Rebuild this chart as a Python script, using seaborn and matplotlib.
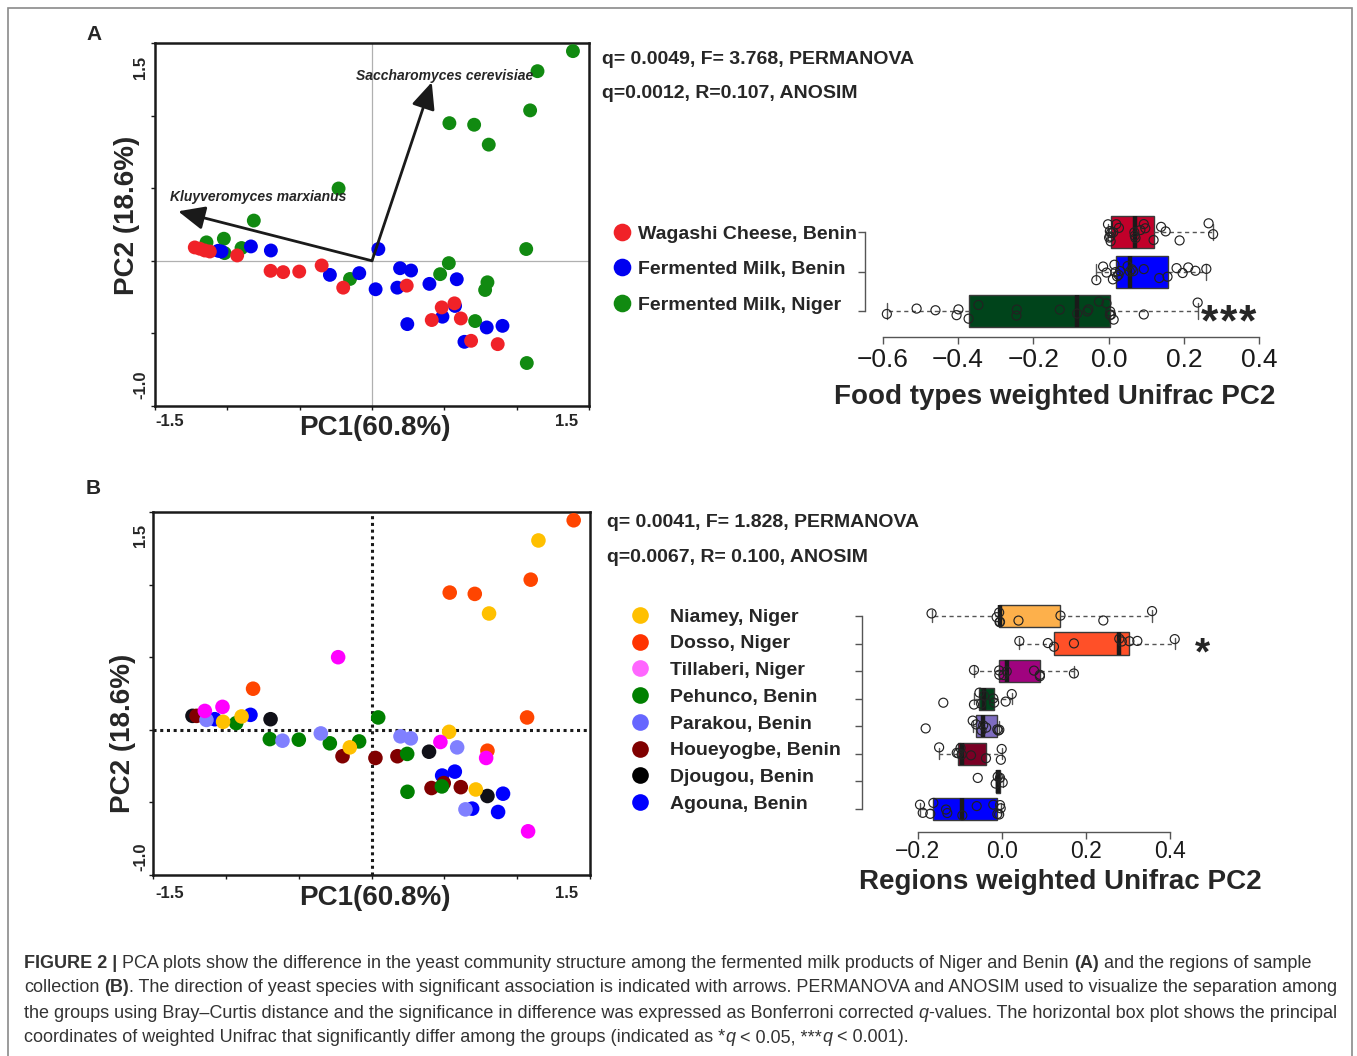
import numpy as np
import pandas as pd
import matplotlib
matplotlib.use("Agg")
import matplotlib.pyplot as plt
import seaborn as sns
from matplotlib.lines import Line2D
from matplotlib.patches import Rectangle

# ---------------- data: panel A scatter (PC1 / PC2) ----------------
food_groups = ["Wagashi Cheese, Benin", "Fermented Milk, Benin", "Fermented Milk, Niger"]
wagashi_pc1 = [-1.225, -1.190, -1.156, -1.121, -0.932, -0.701, -0.614, -0.503, -0.348, -0.199,
               0.240, 0.482, 0.570, 0.413, 0.614, 0.685, 0.869]
wagashi_pc2 = [0.092, 0.083, 0.071, 0.064, 0.037, -0.069, -0.078, -0.074, -0.032, -0.185,
               -0.171, -0.321, -0.293, -0.408, -0.397, -0.551, -0.574]
milk_benin_pc1 = [-1.063, -1.040, -0.837, -0.699, 0.044, -0.291, -0.088, 0.025, 0.194, 0.270,
                  0.175, 0.397, 0.586, 0.244, 0.487, 0.574, 0.793, 0.902, 0.639]
milk_benin_pc2 = [0.069, 0.064, 0.099, 0.071, 0.081, -0.097, -0.085, -0.196, -0.051, -0.067,
                  -0.185, -0.159, -0.127, -0.436, -0.385, -0.311, -0.459, -0.448, -0.558]
milk_niger_pc1 = [1.389, 1.144, 1.093, 0.535, 0.706, 0.807, -0.231, -0.817, -1.024, -1.144,
                  -0.902, -1.019, 1.066, 0.531, 0.471, 0.798, 0.782, -0.152, 0.713, 1.070]
milk_niger_pc2 = [1.444, 1.306, 1.036, 0.948, 0.937, 0.800, 0.498, 0.277, 0.152, 0.127,
                  0.088, 0.053, 0.081, -0.016, -0.092, -0.148, -0.201, -0.125, -0.415, -0.704]
arrow_species = ["Kluyveromyces marxianus", "Saccharomyces cerevisiae"]
arrow_pc1 = [-1.340, 0.413]
arrow_pc2 = [0.341, 1.230]

# ---------------- data: panel A box plot (weighted Unifrac PC2) ----------------
unifrac_wagashi = [-0.002, 0.001, 0.003, 0.004, 0.005, 0.006, 0.012, 0.020, 0.027, 0.068, 0.069,
                   0.071, 0.084, 0.093, 0.097, 0.119, 0.139, 0.151, 0.188, 0.265, 0.277]
unifrac_milk_benin = [-0.033, -0.015, -0.006, 0.011, 0.015, 0.018, 0.022, 0.026, 0.030, 0.050, 0.056,
                      0.061, 0.065, 0.093, 0.134, 0.156, 0.180, 0.196, 0.211, 0.230, 0.259]
unifrac_milk_niger = [-0.589, -0.510, -0.460, -0.404, -0.399, -0.372, -0.346, -0.245, -0.244, -0.130,
                      -0.084, -0.057, -0.054, -0.026, -0.006, 0.003, 0.004, 0.006, 0.013, 0.093, 0.236]

# ---------------- data: panel B scatter ----------------
regions = ["Niamey, Niger", "Dosso, Niger", "Tillaberi, Niger", "Pehunco, Benin",
           "Parakou, Benin", "Houeyogbe, Benin", "Djougou, Benin", "Agouna, Benin"]
niamey_pc1 = [1.146, 0.807, -0.892, -1.019, 0.533, -0.149, 0.716]
niamey_pc2 = [1.304, 0.801, 0.092, 0.055, -0.014, -0.121, -0.411]
dosso_pc1 = [1.388, 1.093, 0.537, 0.709, -0.813, 1.068, 0.796]
dosso_pc2 = [1.443, 1.034, 0.945, 0.936, 0.283, 0.085, -0.144]
tillaberi_pc1 = [-0.229, -1.023, -1.144, 0.473, 0.787, 1.075]
tillaberi_pc2 = [0.500, 0.158, 0.130, -0.084, -0.194, -0.699]
pehunco_pc1 = [0.046, -0.929, -0.698, -0.499, -0.286, -0.085, 0.245, 0.247, 0.483]
pehunco_pc2 = [0.085, 0.046, -0.064, -0.068, -0.093, -0.080, -0.166, -0.427, -0.390]
parakou_pc1 = [-1.133, -0.611, -0.348, 0.199, 0.270, 0.588, 0.645]
parakou_pc2 = [0.068, -0.075, -0.025, -0.045, -0.059, -0.121, -0.548]
houeyogbe_pc1 = [-1.201, -0.199, 0.027, 0.178, 0.412, 0.496, 0.613]
houeyogbe_pc2 = [0.096, -0.182, -0.194, -0.182, -0.401, -0.367, -0.395]
djougou_pc1 = [-1.229, -0.693, 0.395, 0.796]
djougou_pc2 = [0.096, 0.073, -0.151, -0.456]
agouna_pc1 = [-1.076, -0.831, 0.485, 0.572, 0.691, 0.903, 0.869]
agouna_pc2 = [0.073, 0.103, -0.315, -0.288, -0.543, -0.440, -0.566]

# ---------------- data: panel B box plot ----------------
unifrac_niamey = [-0.167, -0.012, -0.006, -0.005, -0.004, 0.040, 0.140, 0.242, 0.358]
unifrac_dosso = [0.042, 0.110, 0.1245, 0.172, 0.280, 0.286, 0.304, 0.323, 0.412]
unifrac_tillaberi = [-0.066, -0.006, -0.0056, 0.004, 0.012, 0.077, 0.091, 0.091, 0.172]
unifrac_pehunco = [-0.139, -0.066, -0.053, -0.049, -0.042, -0.020, -0.018, 0.0095, 0.024]
unifrac_parakou = [-0.181, -0.069, -0.061, -0.048, -0.044, -0.037, -0.0104, -0.008, -0.0056]
unifrac_houeyogbe = [-0.149, -0.107, -0.1033, -0.098, -0.0952, -0.073, -0.0374, -0.002, 0.0]
unifrac_djougou = [-0.057, -0.0143, -0.0095, -0.004, 0.0024]
unifrac_agouna = [-0.1945, -0.188, -0.170, -0.1627, -0.1326, -0.1295, -0.0937, -0.0595, -0.020,
                  -0.0104, -0.006, -0.004, -0.0024]

stats_A = ["q= 0.0049, F= 3.768, PERMANOVA", "q=0.0012, R=0.107, ANOSIM"]
stats_B = ["q= 0.0041, F= 1.828, PERMANOVA", "q=0.0067, R= 0.100, ANOSIM"]
axis_pc1_label = "PC1(60.8%)"
axis_pc2_label = "PC2 (18.6%)"
title_A = "Food types weighted Unifrac PC2"
title_B = "Regions weighted Unifrac PC2"

# ---------------- colours ----------------
scatter_A_colors = {"Wagashi Cheese, Benin": "#F02228", "Fermented Milk, Benin": "#0000F0",
                    "Fermented Milk, Niger": "#118A11"}
box_A_colors = ["#C1002A", "#0000FF", "#00441B"]
scatter_B_colors = {"Niamey, Niger": "#FFC000", "Dosso, Niger": "#FF4500",
                    "Tillaberi, Niger": "#FF00FF", "Pehunco, Benin": "#008000",
                    "Parakou, Benin": "#8080FF", "Houeyogbe, Benin": "#800000",
                    "Djougou, Benin": "#101018", "Agouna, Benin": "#0000FF"}
legend_B_colors = ["#FFC000", "#FF3300", "#FF66FF", "#008000", "#6666FF", "#800000", "#000000", "#0000FF"]
box_B_colors = ["#FDB04B", "#FF5028", "#A0037F", "#00441B", "#7E6CC0", "#7A0025", "#000000", "#0000FF"]

# ---------------- setup ----------------
sns.set_theme(style="white")
plt.rcParams["font.family"] = ["Liberation Sans", "DejaVu Sans"]
plt.rcParams["axes.unicode_minus"] = True
np.random.seed(7)

W, H = 1357, 1056
fig = plt.figure(figsize=(W / 100, H / 100), dpi=100)
fig.patch.set_facecolor("white")


def ax_px(l, t, r, b):
    return fig.add_axes([l / W, 1 - b / H, (r - l) / W, (b - t) / H])


def P(x, y):
    return (x / W, 1 - y / H)


def ftext(x, y, s, **kw):
    return fig.text(x / W, 1 - y / H, s, **kw)


fig.add_artist(Rectangle((8 / W, -0.01), (1352 - 8) / W, 1 - 8 / H + 0.01,
                         transform=fig.transFigure, fill=False, ec="#8a8a8a", lw=1.2))


def style_scatter_axes(ax):
    ax.set_xlim(-1.5, 1.5)
    ax.set_ylim(-1.0, 1.5)
    ax.set_xticks(np.arange(-1.5, 1.51, 0.5))
    ax.set_yticks(np.arange(-1.0, 1.51, 0.5))
    ax.tick_params(direction="out", length=3, width=1, color="k", bottom=True, left=True,
                   labelbottom=False, labelleft=False)
    for sp in ax.spines.values():
        sp.set_color("k")
        sp.set_linewidth(1.8)
    ax.set_xlabel("")
    ax.set_ylabel("")


# ================= Panel A scatter =================
axA = ax_px(155, 43, 589, 406)
dfA = pd.concat([
    pd.DataFrame({"pc1": milk_niger_pc1, "pc2": milk_niger_pc2, "group": food_groups[2]}),
    pd.DataFrame({"pc1": milk_benin_pc1, "pc2": milk_benin_pc2, "group": food_groups[1]}),
    pd.DataFrame({"pc1": wagashi_pc1, "pc2": wagashi_pc2, "group": food_groups[0]}),
], ignore_index=True)
axA.axhline(0, color="#b0b0b0", lw=0.9, zorder=0)
axA.axvline(0, color="#b0b0b0", lw=0.9, zorder=0)
sns.scatterplot(data=dfA, x="pc1", y="pc2", hue="group", palette=scatter_A_colors,
                s=100, linewidth=0, legend=False, ax=axA, zorder=3)
style_scatter_axes(axA)
for sp_name, hx, hy in zip(arrow_species, arrow_pc1, arrow_pc2):
    axA.annotate("", xy=(hx, hy), xytext=(0, 0),
                 arrowprops=dict(arrowstyle="-|>,head_length=0.9,head_width=0.4", lw=2.0,
                                 color="k", shrinkA=0, shrinkB=0, mutation_scale=18), zorder=4)
ftext(258, 197, arrow_species[0], fontsize=10, weight="bold", style="italic", ha="center", va="center")
ftext(445, 76, arrow_species[1], fontsize=10, weight="bold", style="italic", ha="center", va="center")

# ================= Panel B scatter =================
axB = ax_px(153, 512, 590, 875)
order_B = [7, 6, 5, 1, 3, 4, 0, 2]
pcs_B = [(niamey_pc1, niamey_pc2), (dosso_pc1, dosso_pc2), (tillaberi_pc1, tillaberi_pc2),
         (pehunco_pc1, pehunco_pc2), (parakou_pc1, parakou_pc2), (houeyogbe_pc1, houeyogbe_pc2),
         (djougou_pc1, djougou_pc2), (agouna_pc1, agouna_pc2)]
dfB = pd.concat([pd.DataFrame({"pc1": pcs_B[i][0], "pc2": pcs_B[i][1], "group": regions[i]})
                 for i in order_B], ignore_index=True)
axB.axhline(0, color="k", lw=2.2, ls=(0, (1, 1.2)), zorder=0)
axB.axvline(0, color="k", lw=2.2, ls=(0, (1, 1.2)), zorder=0)
sns.scatterplot(data=dfB, x="pc1", y="pc2", hue="group", palette=scatter_B_colors,
                s=110, linewidth=0, legend=False, ax=axB, zorder=3)
style_scatter_axes(axB)

# scatter tick labels and axis labels
for (y_tick, y_top, y_bot, y_xl, x_yl, y_yl) in [(421, 67, 385, 428, 127, 215),
                                                   (893, 535, 857, 898, 123, 733)]:
    ftext(155, y_tick, "-1.5", fontsize=12, weight="bold", ha="left", va="center")
    ftext(578, y_tick, "1.5", fontsize=12, weight="bold", ha="right", va="center")
    ftext(141, y_top, "1.5", fontsize=12, weight="bold", ha="center", va="center", rotation=90)
    ftext(141, y_bot, "-1.0", fontsize=12, weight="bold", ha="center", va="center", rotation=90)
    ftext(375, y_xl, axis_pc1_label, fontsize=20, weight="bold", ha="center", va="center")
    ftext(x_yl, y_yl, axis_pc2_label, fontsize=20, weight="bold", ha="center", va="center",
          rotation=90)

ftext(94, 34, "A", fontsize=15, weight="bold", ha="center", va="center")
ftext(93, 488, "B", fontsize=15, weight="bold", ha="center", va="center")

# stats text
for i, s in enumerate(stats_A):
    ftext(602, 59 + 35 * i, s, fontsize=14, weight="bold", ha="left", va="center")
for i, s in enumerate(stats_B):
    ftext(607, 522 + 36 * i, s, fontsize=14, weight="bold", ha="left", va="center")


# ================= Box plots =================
def draw_box(ax, df, order, colors, width, xlim, ylim, xticks, bottom_bounds, tick_fs, pad):
    sns.boxplot(data=df, x="val", y="group", order=order, hue="group", hue_order=order,
                palette=colors, width=width, whis=1.5, showfliers=False, saturation=1,
                linecolor="#3a3a3a", linewidth=1.0, legend=False, ax=ax,
                medianprops=dict(color="k", linewidth=3.2),
                whiskerprops=dict(linestyle=(0, (3, 2.5)), color="#555555", linewidth=1.0),
                capprops=dict(color="#555555", linewidth=1.0))
    n0 = len(ax.collections)
    sns.stripplot(data=df, x="val", y="group", order=order, jitter=0.24, size=6.5, color="k", ax=ax,
                  zorder=5)
    for c in ax.collections[n0:]:
        c.set_facecolor("none")
        c.set_edgecolor("#222222")
        c.set_linewidth(0.85)
    ax.set_xlim(*xlim)
    ax.set_ylim(*ylim)
    ax.set_xticks(xticks)
    ax.set_yticks(range(len(order)))
    ax.tick_params(axis="x", direction="out", length=5, width=1, color="#555555", bottom=True,
                   labelsize=tick_fs, pad=pad, labelcolor="k")
    ax.tick_params(axis="y", direction="out", length=5, width=1, color="#555555", left=True,
                   labelleft=False)
    for s in ["top", "right"]:
        ax.spines[s].set_visible(False)
    ax.spines["left"].set_bounds(0, len(order) - 1)
    ax.spines["bottom"].set_bounds(*bottom_bounds)
    for s in ["left", "bottom"]:
        ax.spines[s].set_color("#555555")
        ax.spines[s].set_linewidth(1.0)
    ax.set_xlabel("")
    ax.set_ylabel("")
    ax.patch.set_alpha(0)


axBA = ax_px(865, 200, 1270, 337)
dfBA = pd.concat([pd.DataFrame({"val": v, "group": g}) for v, g in
                  zip([unifrac_wagashi, unifrac_milk_benin, unifrac_milk_niger], food_groups)],
                 ignore_index=True)
draw_box(axBA, dfBA, food_groups, box_A_colors, 0.82, (-0.647, 0.428), (2.66, -0.82),
         [-0.6, -0.4, -0.2, 0.0, 0.2, 0.4], (-0.6, 0.4), 19, 3)

axBB = ax_px(861.7, 595, 1230, 831.7)
box_B_values = [unifrac_niamey, unifrac_dosso, unifrac_tillaberi, unifrac_pehunco,
                unifrac_parakou, unifrac_houeyogbe, unifrac_djougou, unifrac_agouna]
dfBB = pd.concat([pd.DataFrame({"val": v, "group": g}) for v, g in zip(box_B_values, regions)],
                 ignore_index=True)
draw_box(axBB, dfBB, regions, box_B_colors, 0.81, (-0.3333, 0.5436), (7.82, -0.76),
         [-0.2, 0.0, 0.2, 0.4], (-0.2, 0.4), 16.5, 1)

ftext(1055, 397, title_A, fontsize=20, weight="bold", ha="center", va="center")
ftext(1060, 882, title_B, fontsize=20, weight="bold", ha="center", va="center")
for sx in [1209, 1228, 1247]:
    ftext(sx, 335, "*", fontsize=32, weight="bold", ha="center", va="baseline")
ftext(1202, 664, "*", fontsize=28, weight="bold", ha="center", va="baseline")

# ================= legends =================
hA = [Line2D([0], [0], marker="o", ls="none", markersize=12.7, markerfacecolor=scatter_A_colors[g],
             markeredgewidth=0) for g in food_groups]
fig.legend(hA, food_groups, loc="upper left", bbox_to_anchor=P(612.3, 225), frameon=False,
           prop={"weight": "bold", "size": 14}, handlelength=1.0, handletextpad=0.32,
           labelspacing=0.92, borderpad=0, borderaxespad=0)
hB = [Line2D([0], [0], marker="o", ls="none", markersize=12, markerfacecolor=c, markeredgewidth=0)
      for c in legend_B_colors]
fig.legend(hB, regions, loc="upper left", bbox_to_anchor=P(630.3, 608), frameon=False,
           prop={"weight": "bold", "size": 14}, handlelength=1.0, handletextpad=1.04,
           labelspacing=0.47, borderpad=0, borderaxespad=0)

# ================= caption =================
caption_lines = [
    [("FIGURE 2 |", "bold", "normal"),
     (" PCA plots show the difference in the yeast community structure among the fermented milk products of Niger and Benin ", "normal", "normal"),
     ("(A)", "bold", "normal"), (" and the regions of sample", "normal", "normal")],
    [("collection ", "normal", "normal"), ("(B)", "bold", "normal"),
     (". The direction of yeast species with significant association is indicated with arrows. PERMANOVA and ANOSIM used to visualize the separation among", "normal", "normal")],
    [("the groups using Bray\u2013Curtis distance and the significance in difference was expressed as Bonferroni corrected ", "normal", "normal"),
     ("q", "normal", "italic"), ("-values. The horizontal box plot shows the principal", "normal", "normal")],
    [("coordinates of weighted Unifrac that significantly differ among the groups (indicated as *", "normal", "normal"),
     ("q", "normal", "italic"), (" < 0.05, ***", "normal", "normal"), ("q", "normal", "italic"),
     (" < 0.001).", "normal", "normal")],
]
renderer = fig.canvas.get_renderer()


def twidth(s, size, weight, style):
    t = fig.text(0, 0, s, fontsize=size, weight=weight, style=style)
    w = t.get_window_extent(renderer).width
    t.remove()
    return w


def run_width(s, size, weight, style):
    return twidth("|" + s + "|", size, weight, style) - twidth("||", size, weight, style)


def line_width(line, size):
    return sum(run_width(s, size, w, st) for s, w, st in line)


base = 12.0
cap_size = base * 1316.0 / line_width(caption_lines[1], base)
for i, line in enumerate(caption_lines):
    x = 24.0
    y = 963 + 25 * i
    for s, w, st in line:
        core = s.strip(" ")
        lead = len(s) - len(s.lstrip(" "))
        x += run_width(" " * lead, cap_size, w, st) if lead else 0
        if core:
            ftext(x, y, core, fontsize=cap_size, weight=w, style=st, color="#333333",
                  ha="left", va="center")
        x += run_width(core, cap_size, w, st)
        trail = len(s) - len(s.rstrip(" "))
        x += run_width(" " * trail, cap_size, w, st) if trail else 0

fig.savefig("out.png", dpi=100)
